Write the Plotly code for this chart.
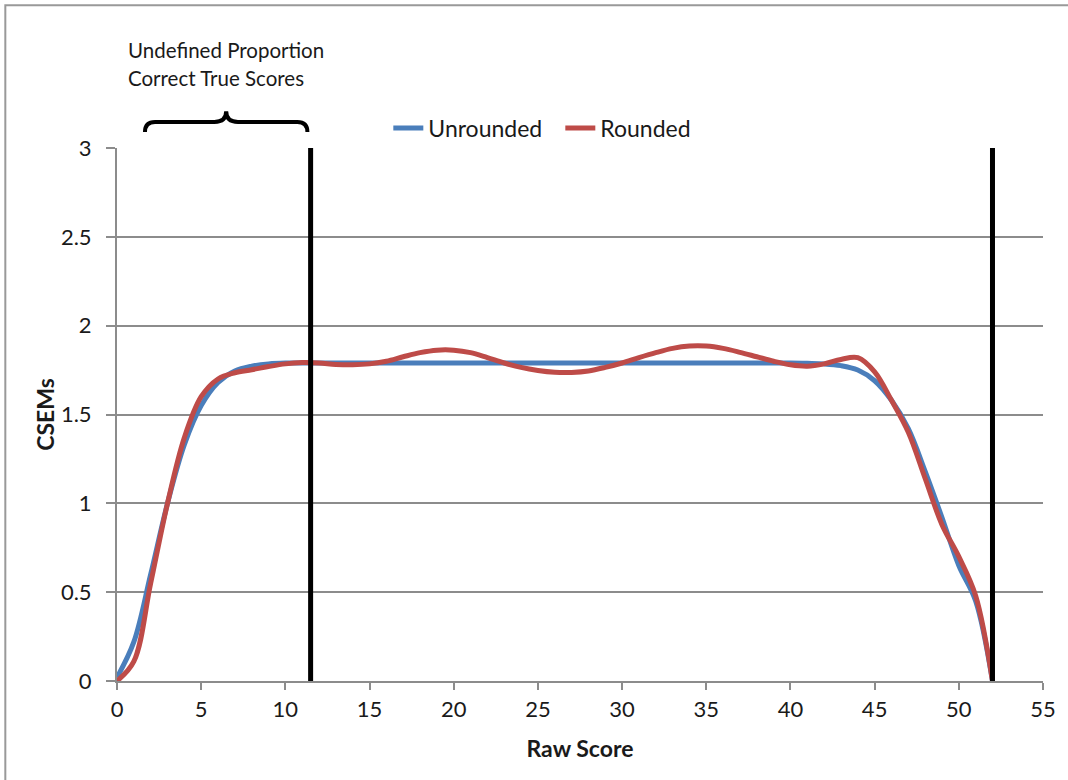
import plotly.graph_objects as go

raw_score = list(range(0, 53))
unrounded = [0.02, 0.22, 0.60, 1.00, 1.33, 1.55, 1.68, 1.745, 1.772, 1.785,
             1.79, 1.79, 1.79, 1.79, 1.79, 1.79, 1.79, 1.79, 1.79, 1.79,
             1.79, 1.79, 1.79, 1.79, 1.79, 1.79, 1.79, 1.79, 1.79, 1.79,
             1.79, 1.79, 1.79, 1.79, 1.79, 1.79, 1.79, 1.79, 1.79, 1.79,
             1.79, 1.788, 1.785, 1.775, 1.75, 1.69, 1.58, 1.42, 1.18, 0.92,
             0.65, 0.45, 0.0]
rounded = [0.0, 0.11, 0.55, 1.0, 1.37, 1.60, 1.70, 1.735, 1.752, 1.77,
           1.785, 1.792, 1.79, 1.782, 1.78, 1.785, 1.80, 1.825, 1.848, 1.862,
           1.862, 1.848, 1.82, 1.79, 1.765, 1.748, 1.738, 1.737, 1.745, 1.765,
           1.79, 1.82, 1.848, 1.872, 1.885, 1.885, 1.872, 1.85, 1.825, 1.80,
           1.78, 1.772, 1.785, 1.81, 1.82, 1.74, 1.58, 1.40, 1.14, 0.88,
           0.70, 0.48, 0.0]
boundaries = [11.5, 52]
y_ticks = [0, 0.5, 1, 1.5, 2, 2.5, 3]
x_ticks = list(range(0, 56, 5))

FONT = "Lato"
GRAY = "#8c8c8c"
TXT = "#1a1a1a"

fig = go.Figure()
fig.add_trace(go.Scatter(x=raw_score, y=unrounded, mode="lines", name="Unrounded",
                         line=dict(color="#4a7ebb", width=5, shape="spline", smoothing=1)))
fig.add_trace(go.Scatter(x=raw_score, y=rounded, mode="lines", name="Rounded",
                         line=dict(color="#be4b48", width=5, shape="spline", smoothing=1)))
for b in boundaries:
    fig.add_trace(go.Scatter(x=[b, b], y=[0, 3], mode="lines", showlegend=False,
                             line=dict(color="black", width=5), hoverinfo="skip"))

# curly brace over the undefined region
x1, x2 = 1.66, 11.31
xm = (x1 + x2) / 2
yb, yh, yt = 1.030, 1.049, 1.069
brace = (f"M {x1},{yb} Q {x1},{yh} {x1+0.6},{yh} L {xm-0.7},{yh} "
         f"Q {xm},{yh} {xm},{yt} Q {xm},{yh} {xm+0.7},{yh} L {x2-0.6},{yh} "
         f"Q {x2},{yh} {x2},{yb}")
fig.add_shape(type="path", path=brace, xref="x", yref="paper",
              line=dict(color="black", width=4))

# outer border
fig.add_shape(type="rect", xref="paper", yref="paper", x0=-0.1206, x1=1.04,
              y0=-0.2, y1=1.268, line=dict(color="#999999", width=2))

fig.add_annotation(x=0.0097, y=1.184, xref="paper", yref="paper", xanchor="left",
                   yanchor="middle", showarrow=False, text="Undefined Proportion",
                   font=dict(family=FONT, size=20.5, color=TXT))
fig.add_annotation(x=0.0097, y=1.131, xref="paper", yref="paper", xanchor="left",
                   yanchor="middle", showarrow=False, text="Correct True Scores",
                   font=dict(family=FONT, size=20.5, color=TXT))

fig.update_layout(
    width=1068, height=780,
    margin=dict(l=117, r=22, t=148, b=99),
    paper_bgcolor="white", plot_bgcolor="white",
    font=dict(family=FONT, size=22, color=TXT),
    showlegend=True,
    legend=dict(orientation="h", x=0.293, y=1.0375, xanchor="left", yanchor="middle",
                font=dict(family=FONT, size=23, color=TXT),
                itemwidth=30, entrywidth=127, entrywidthmode="pixels",
                bgcolor="rgba(0,0,0,0)"),
    xaxis=dict(range=[0, 55], tickvals=x_ticks, showgrid=False, zeroline=False,
               showline=True, linecolor=GRAY, linewidth=2,
               ticks="outside", ticklen=7, tickcolor=GRAY, tickwidth=2,
               ticklabelstandoff=1,
               tickfont=dict(family=FONT, size=22, color=TXT),
               title=dict(text="<b>Raw Score</b>", font=dict(family=FONT, size=23), standoff=19)),
    yaxis=dict(range=[0, 3], tickvals=y_ticks, ticktext=["0", "0.5", "1", "1.5", "2", "2.5", "3"],
               showgrid=True, gridcolor=GRAY, gridwidth=2, zeroline=False,
               showline=True, linecolor=GRAY, linewidth=2,
               ticks="outside", ticklen=9, tickcolor=GRAY, tickwidth=2,
               ticklabelstandoff=10,
               tickfont=dict(family=FONT, size=22, color=TXT),
               title=dict(text="<b>CSEMs</b>", font=dict(family=FONT, size=23), standoff=0)),
)

fig.write_html("out.html", config={"displayModeBar": False},
               post_script="document.body.style.margin='0px';")
